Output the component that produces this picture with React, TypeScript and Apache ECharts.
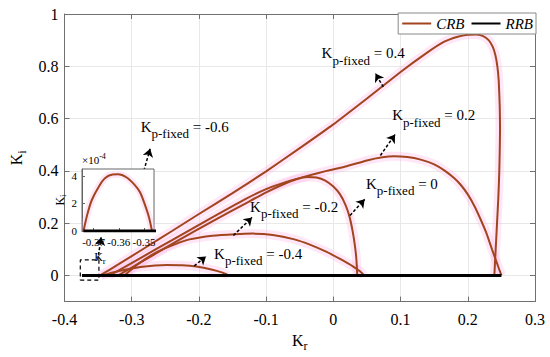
import React, { useEffect, useRef } from 'react';
import * as echarts from 'echarts';

// ---- data (Kr, Ki) ----
const crbKp04: [number, number][] = [
  [-0.347, 0], [-0.32, 0.042], [-0.28, 0.106], [-0.24, 0.17], [-0.2, 0.235], [-0.15, 0.315],
  [-0.1, 0.398], [-0.05, 0.487], [0, 0.578], [0.05, 0.677], [0.1, 0.778], [0.14, 0.853],
  [0.165, 0.894], [0.185, 0.913], [0.2, 0.921], [0.212, 0.922], [0.222, 0.916], [0.231, 0.9],
  [0.237, 0.875], [0.241, 0.843], [0.244, 0.8], [0.246, 0.746], [0.2475, 0.65], [0.248, 0.56],
  [0.2475, 0.47], [0.2468, 0.393], [0.2455, 0.3], [0.2435, 0.2], [0.2415, 0.1], [0.2395, 0],
];
const crbKp02: [number, number][] = [
  [-0.333, 0], [-0.31, 0.033], [-0.28, 0.077], [-0.24, 0.135], [-0.19, 0.208], [-0.131, 0.292],
  [-0.1, 0.33], [-0.07, 0.358], [-0.04, 0.38], [-0.01, 0.4], [0.02, 0.418], [0.05, 0.44],
  [0.073, 0.452], [0.09, 0.456], [0.11, 0.453], [0.13, 0.443], [0.15, 0.425], [0.165, 0.402],
  [0.18, 0.372], [0.19, 0.345], [0.2, 0.31], [0.21, 0.265], [0.219, 0.215], [0.228, 0.16],
  [0.236, 0.1], [0.243, 0.05], [0.25, 0],
];
const crbKp00: [number, number][] = [
  [-0.32, 0], [-0.3, 0.03], [-0.27, 0.075], [-0.23, 0.135], [-0.18, 0.207], [-0.131, 0.275],
  [-0.1, 0.318], [-0.075, 0.348], [-0.055, 0.368], [-0.039, 0.377], [-0.025, 0.375],
  [-0.012, 0.363], [0, 0.34], [0.01, 0.31], [0.018, 0.27], [0.024, 0.225], [0.029, 0.165],
  [0.032, 0.115], [0.034, 0.07], [0.035, 0.03], [0.0355, 0],
];
const crbKpm02: [number, number][] = [
  [-0.311, 0], [-0.29, 0.045], [-0.262, 0.09], [-0.235, 0.12], [-0.214, 0.138], [-0.18, 0.152],
  [-0.146, 0.158], [-0.12, 0.16], [-0.09, 0.155], [-0.058, 0.138], [-0.035, 0.118],
  [-0.01, 0.09], [0.01, 0.063], [0.029, 0.035], [0.04, 0.015], [0.046, 0],
];
const crbKpm04: [number, number][] = [
  [-0.345, 0], [-0.33, 0.01], [-0.31, 0.022], [-0.287, 0.032], [-0.265, 0.038], [-0.248, 0.04],
  [-0.225, 0.039], [-0.204, 0.034], [-0.18, 0.022], [-0.165, 0.011], [-0.156, 0],
];
const crbKpm06: [number, number][] = [
  [-0.374, 0], [-0.3725, 0.00012], [-0.3707, 0.000225], [-0.368, 0.00032], [-0.3655, 0.000383],
  [-0.3625, 0.00041], [-0.3602, 0.000412], [-0.357, 0.00039], [-0.3537, 0.000335],
  [-0.3515, 0.00028], [-0.3498, 0.0002], [-0.348, 0.0001], [-0.3468, 0],
];
const rrbLine: [number, number][] = [[-0.374, 0], [0.25, 0]];
const kpValues = ['0.4', '0.2', '0', '-0.2', '-0.4', '-0.6'];
const legendNames = ['CRB', 'RRB'];

// ---- layout (annotation anchors in data units) ----
const labelAnchors: [number, number][] = [
  [-0.0175, 0.85], [0.0875, 0.612], [0.0486, 0.35], [-0.1239, 0.262], [-0.1774, 0.0838], [-0.2867, 0.568],
];
const arrowLines: [number, number][][] = [
  [[0.0743, 0.721], [0.0627, 0.772]],
  [[0.07, 0.459], [0.0918, 0.539]],
  [[0.0248, 0.2295], [0.0466, 0.291]],
  [[-0.1487, 0.153], [-0.121, 0.222]],
  [[-0.207, 0.0364], [-0.1895, 0.0729]],
  [[-0.284, 0.3825], [-0.2726, 0.4845]],
  [[-0.3505, 0.0594], [-0.3455, 0.1457]],
];
const zoomBox: [number, number][] = [
  [-0.3765, -0.018], [-0.3488, -0.018], [-0.3488, 0.0594], [-0.3765, 0.0594], [-0.3765, -0.018],
];

const FONT = "'Liberation Serif', 'Times New Roman', serif";
const CRB_COLOR = '#a1451f';
const GLOW = 'rgba(255,175,230,0.3)';
const AXIS = '#707070';

const fmt = (v: number) => String(Number(v.toFixed(3)));

export default function App() {
  const ref = useRef<HTMLDivElement>(null);
  useEffect(() => {
    if (!ref.current) return;
    const chart = echarts.init(ref.current, undefined, { renderer: 'svg' });
    const mainCurves = [crbKp04, crbKp02, crbKp00, crbKpm02, crbKpm04];
    const series: any[] = [];
    mainCurves.forEach((c) =>
      series.push({
        type: 'line', name: 'glow', data: c, symbol: 'none', smooth: 0.15, silent: true, z: 1,
        lineStyle: { width: 9, color: GLOW }, itemStyle: { color: GLOW },
      })
    );
    mainCurves.forEach((c) =>
      series.push({
        type: 'line', name: 'CRB', data: c, symbol: 'none', smooth: 0.15, z: 3,
        lineStyle: { width: 2, color: CRB_COLOR }, itemStyle: { color: CRB_COLOR },
      })
    );
    series.push({
      type: 'line', name: 'RRB', data: rrbLine, symbol: 'none', z: 4,
      lineStyle: { width: 3, color: '#000' }, itemStyle: { color: '#000' },
    });
    series.push({
      type: 'line', name: 'box', data: zoomBox, symbol: 'none', z: 5, silent: true,
      lineStyle: { width: 1.2, color: '#000', type: [4, 3] },
      markLine: {
        silent: true, symbol: ['none', 'arrow'], symbolSize: 8, animation: false,
        lineStyle: { type: [3, 2], color: '#000', width: 1.5 },
        label: { show: false },
        emphasis: { disabled: true },
        data: arrowLines.map((a) => [{ coord: a[0] }, { coord: a[1] }]),
      },
    });
    // inset series
    series.push({
      type: 'line', name: 'glow', data: crbKpm06, xAxisIndex: 2, yAxisIndex: 2, symbol: 'none',
      smooth: 0.3, silent: true, z: 11, lineStyle: { width: 7, color: GLOW },
    });
    series.push({
      type: 'line', name: 'CRB', data: crbKpm06, xAxisIndex: 2, yAxisIndex: 2, symbol: 'none',
      smooth: 0.3, z: 12, lineStyle: { width: 2, color: CRB_COLOR }, itemStyle: { color: CRB_COLOR },
    });
    series.push({
      type: 'line', name: 'RRB', data: rrbLine, xAxisIndex: 2, yAxisIndex: 2, symbol: 'none', z: 13,
      lineStyle: { width: 3, color: '#000' }, itemStyle: { color: '#000' },
    });

    const nameRich = (size: number, sub: number, pad: number) => ({
      k: { fontFamily: FONT, fontSize: size, color: '#000' },
      s: { fontFamily: FONT, fontSize: sub, color: '#000', padding: [pad, 0, 0, 0] },
    });
    const tickLabel = (size: number, margin: number, scale = 1) => ({
      margin,
      formatter: (v: number) => `{t|${fmt(v * scale)}}`,
      rich: { t: { fontFamily: FONT, fontSize: size, color: '#000' } },
    });

    const option: any = {
      animation: false,
      backgroundColor: '#fff',
      textStyle: { fontFamily: FONT },
      grid: [
        { left: 55, right: 15, top: 14, bottom: 42 },
        { left: 82, top: 169, width: 72, height: 62, show: true, backgroundColor: '#fff', borderColor: '#666', borderWidth: 1, z: 8 },
      ],
      legend: {
        data: legendNames, right: 14, top: 13, itemWidth: 29, itemHeight: 10, itemGap: 6,
        padding: [3, 3, 3, 3], borderColor: '#888', borderWidth: 1, backgroundColor: '#fff',
        itemStyle: { opacity: 0 },
        formatter: (n: string) => `{l|${n}}`,
        textStyle: {
          fontFamily: FONT, fontStyle: 'italic', fontSize: 15, color: '#000',
          rich: { l: { fontFamily: FONT, fontStyle: 'italic', fontSize: 15, color: '#000' } },
        },
        z: 20,
      },
      xAxis: [
        {
          type: 'value', gridIndex: 0, min: -0.4, max: 0.3, interval: 0.1, position: 'bottom',
          axisLine: { onZero: false, lineStyle: { color: AXIS } },
          axisTick: { inside: true, length: 5, lineStyle: { color: AXIS } },
          axisLabel: tickLabel(16, 10),
          splitLine: { show: true, lineStyle: { color: '#e8e8e8' } },
          name: '{k|K}{s|r}', nameLocation: 'middle', nameGap: 17,
          nameTextStyle: { rich: nameRich(16, 12, 11) },
        },
        {
          type: 'value', gridIndex: 0, min: -0.4, max: 0.3, interval: 0.1, position: 'top',
          axisLine: { onZero: false, lineStyle: { color: AXIS } },
          axisTick: { inside: true, length: 5, lineStyle: { color: AXIS } },
          axisLabel: { show: false }, splitLine: { show: false },
        },
        {
          type: 'value', gridIndex: 1, min: -0.3746, max: -0.346, splitNumber: 3, position: 'bottom', z: 9,
          axisLine: { onZero: false, lineStyle: { color: '#666' } },
          axisTick: { inside: true, length: 3, lineStyle: { color: '#666' } },
          axisLabel: { ...tickLabel(11, 5), showMinLabel: false, showMaxLabel: false },
          splitLine: { show: false },
          name: '{k|K}{s|r}', nameLocation: 'middle', nameGap: 18,
          nameTextStyle: { rich: nameRich(12, 9, 7), padding: [0, 36, 0, 0] },
        },
      ],
      yAxis: [
        {
          type: 'value', gridIndex: 0, min: -0.1, max: 1, splitNumber: 5, position: 'left',
          axisLine: { onZero: false, lineStyle: { color: AXIS } },
          axisTick: { inside: true, length: 5, lineStyle: { color: AXIS } },
          axisLabel: { ...tickLabel(16, 6), showMinLabel: false },
          splitLine: { show: true, lineStyle: { color: '#e8e8e8' } },
          name: '{k|K}{s|i}', nameLocation: 'middle', nameRotate: 90, nameGap: 37,
          nameTextStyle: { rich: nameRich(16, 12, 11) },
        },
        {
          type: 'value', gridIndex: 0, min: -0.1, max: 1, splitNumber: 5, position: 'right',
          axisLine: { onZero: false, lineStyle: { color: AXIS } },
          axisTick: { inside: true, length: 5, lineStyle: { color: AXIS } },
          axisLabel: { show: false }, splitLine: { show: false },
        },
        {
          type: 'value', gridIndex: 1, min: 0, max: 0.00045, interval: 0.0002, position: 'left', z: 9,
          axisLine: { onZero: false, lineStyle: { color: '#666' } },
          axisTick: { inside: true, length: 3, lineStyle: { color: '#666' } },
          axisLabel: { ...tickLabel(11, 5, 1e4), showMaxLabel: false },
          splitLine: { show: false },
          name: '{k|K}{s|i}', nameLocation: 'middle', nameRotate: 90, nameGap: 11,
          nameTextStyle: { rich: nameRich(12, 9, 7) },
        },
      ],
      series,
    };
    chart.setOption(option);

    const annRich = {
      k: { fontFamily: FONT, fontSize: 15, fill: '#000' },
      s: { fontFamily: FONT, fontSize: 13, fill: '#000', padding: [14, 0, 0, 0] },
      t: { fontFamily: FONT, fontSize: 15, fill: '#000' },
    };
    const graphics: any[] = kpValues.map((v, i) => {
      const p = chart.convertToPixel({ gridIndex: 0 }, labelAnchors[i]) as number[];
      return {
        type: 'text', x: p[0], y: p[1], z: 30, silent: true,
        style: { text: `{k|K}{s|p-fixed}{t| = ${v}}`, rich: annRich, align: 'left', verticalAlign: 'middle', fontFamily: FONT },
      };
    });
    const insetCorner = chart.convertToPixel({ gridIndex: 1 }, [-0.3746, 0.00045]) as number[];
    graphics.push({
      type: 'text', x: insetCorner[0], y: insetCorner[1] - 1, z: 30, silent: true,
      style: {
        text: '{a|×10}{b|-4}', align: 'left', verticalAlign: 'bottom', fontFamily: FONT,
        rich: {
          a: { fontFamily: FONT, fontSize: 11, fill: '#000' },
          b: { fontFamily: FONT, fontSize: 8, fill: '#000', padding: [0, 0, 8, 0] },
        },
      },
    });
    chart.setOption({ graphic: graphics });

    return () => chart.dispose();
  }, []);
  return <div ref={ref} style={{ position: 'absolute', left: 0, top: 0, width: 550, height: 357 }} />;
}
